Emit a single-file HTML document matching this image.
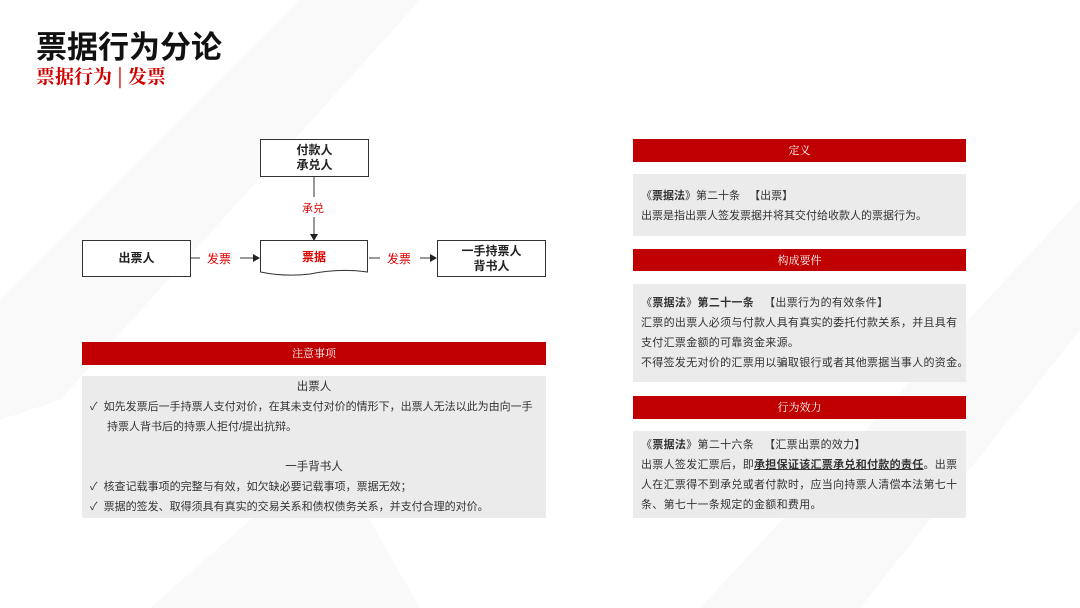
<!DOCTYPE html>
<html><head><meta charset="utf-8"><style>
*{margin:0;padding:0;box-sizing:border-box}
body{width:1080px;height:608px;position:relative;overflow:hidden;background:#fff;font-family:"Liberation Sans","Noto Sans CJK SC",sans-serif;color:#222}
.a{position:absolute}
.bar{position:absolute;background:#c00000;color:#fff;font-size:11px;text-align:center;font-family:"Noto Serif CJK SC",serif}
.gray{position:absolute;background:#ebebeb;font-size:11px;line-height:20px;color:#333;white-space:nowrap}
.box{position:absolute;border:1px solid #333;background:#fff;font-size:12px;font-weight:bold;text-align:center;display:flex;align-items:center;justify-content:center;line-height:15px}
.red{color:#e00000}
</style></head><body>
<svg class="a" style="left:0;top:0" width="1080" height="608">
<polygon points="0,300 300,0 420,0 60,400 0,420" fill="#f9f9f9"/>
<polygon points="700,608 1080,200 1080,330 860,608" fill="#f9f9f9"/>
<polygon points="150,608 330,450 420,608" fill="#fafafa"/>
<line x1="314" y1="176" x2="314" y2="197" stroke="#333"/>
<line x1="314" y1="217" x2="314" y2="236" stroke="#333"/>
<polygon points="310,234 318,234 314,241" fill="#222"/>
<line x1="191" y1="258" x2="200" y2="258" stroke="#333"/>
<line x1="240" y1="258" x2="255" y2="258" stroke="#333"/>
<polygon points="253,254 253,262 260,258" fill="#222"/>
<line x1="369" y1="258" x2="380" y2="258" stroke="#333"/>
<line x1="420" y1="258" x2="432" y2="258" stroke="#333"/>
<polygon points="430,254 430,262 437,258" fill="#222"/>
<path d="M260.5,240.5 H367.5 V272 Q340,268 310,274 Q285,277 260.5,272 Z" fill="#fff" stroke="#333"/>
</svg>
<div class="a" style="left:36px;top:22px;font-size:31px;font-weight:bold;color:#111">票据行为分论</div>
<div class="a red" style="left:36px;top:62px;font-size:19px;font-weight:bold;font-family:'Noto Serif CJK SC',serif;color:#d00000">票据行为 | 发票</div>

<div class="box" style="left:260px;top:139px;width:109px;height:38px">付款人<br>承兑人</div>
<div class="a red" style="left:302px;top:200px;font-size:11px">承兑</div>
<div class="box" style="left:82px;top:240px;width:109px;height:37px">出票人</div>
<div class="a red" style="left:260px;top:248px;width:108px;text-align:center;font-size:12px;font-weight:bold">票据</div>
<div class="box" style="left:437px;top:240px;width:109px;height:37px">一手持票人<br>背书人</div>
<div class="a red" style="left:207px;top:250px;font-size:12px">发票</div>
<div class="a red" style="left:387px;top:250px;font-size:12px">发票</div>

<div class="bar" style="left:82px;top:342px;width:464px;height:23px;line-height:23px">注意事项</div>
<div class="gray" style="left:82px;top:376px;width:464px;height:142px;padding:1px 8px 0 8px">
<div style="text-align:center;font-size:11.5px">出票人</div>
<div>✓ &nbsp;如先发票后一手持票人支付对价，在其未支付对价的情形下，出票人无法以此为由向一手</div>
<div style="padding-left:17px">持票人背书后的持票人拒付/提出抗辩。</div>
<div style="height:20px"></div>
<div style="text-align:center;font-size:11.5px">一手背书人</div>
<div>✓ &nbsp;核查记载事项的完整与有效，如欠缺必要记载事项，票据无效；</div>
<div>✓ &nbsp;票据的签发、取得须具有真实的交易关系和债权债务关系，并支付合理的对价。</div>
</div>

<div class="bar" style="left:633px;top:139px;width:333px;height:23px;line-height:23px">定义</div>
<div class="gray" style="left:633px;top:174px;width:333px;height:62px;padding:12px 8px 0 8px">
<div>《<b>票据法</b>》第二十条 &nbsp;&nbsp;【出票】</div>
<div>出票是指出票人签发票据并将其交付给收款人的票据行为。</div>
</div>
<div class="bar" style="left:633px;top:249px;width:333px;height:22px;line-height:22px">构成要件</div>
<div class="gray" style="left:633px;top:284px;width:333px;height:98px;padding:9px 2px 0 8px;letter-spacing:0.3px">
<div>《<b>票据法</b>》<b>第二十一条</b> &nbsp;&nbsp;【出票行为的有效条件】</div>
<div>汇票的出票人必须与付款人具有真实的委托付款关系，并且具有</div>
<div>支付汇票金额的可靠资金来源。</div>
<div>不得签发无对价的汇票用以骗取银行或者其他票据当事人的资金。</div>
</div>
<div class="bar" style="left:633px;top:396px;width:333px;height:23px;line-height:23px">行为效力</div>
<div class="gray" style="left:633px;top:431px;width:333px;height:87px;padding:4px 2px 0 8px;letter-spacing:0.3px">
<div>《<b>票据法</b>》第二十六条 &nbsp;&nbsp;【汇票出票的效力】</div>
<div>出票人签发汇票后，即<b style="text-decoration:underline">承担保证该汇票承兑和付款的责任</b>。出票</div>
<div>人在汇票得不到承兑或者付款时，应当向持票人清偿本法第七十</div>
<div>条、第七十一条规定的金额和费用。</div>
</div>
</body></html>
